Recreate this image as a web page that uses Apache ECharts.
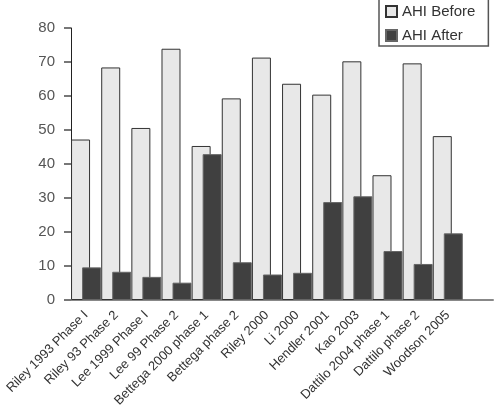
<!DOCTYPE html>
<html>
<head>
<meta charset="utf-8">
<script src="https://cdn.jsdelivr.net/npm/echarts@6/dist/echarts.min.js"></script>
<style>html,body{margin:0;padding:0;background:#fff}#c{width:494px;height:413px}</style>
</head>
<body>
<div id="c"></div>
<script>
var categories = ['Riley 1993 Phase I','Riley 93 Phase 2','Lee 1999 Phase I','Lee 99 Phase 2','Bettega 2000 phase 1','Bettega phase 2','Riley 2000','Li 2000','Hendler 2001','Kao 2003','Dattilo 2004 phase 1','Dattilo phase 2','Woodson 2005',''];
var ahiBefore = [47.2, 68.4, 50.6, 73.9, 45.3, 59.3, 71.3, 63.6, 60.4, 70.2, 36.7, 69.6, 48.2];
var ahiAfter = [9.6, 8.3, 6.8, 5.1, 42.9, 11.1, 7.5, 8.0, 28.8, 30.5, 14.4, 10.6, 19.6];
var yTicks = [0, 10, 20, 30, 40, 50, 60, 70, 80];

var FONT = '"Liberation Sans", Arial, sans-serif';
var chart = echarts.init(document.getElementById('c'), null, {renderer: 'canvas'});
chart.setOption({
  animation: false,
  backgroundColor: '#fff',
  grid: {left: 71, right: 1, top: 28, bottom: 113, containLabel: false, outerBoundsMode: 'none'},
  legend: {
    orient: 'vertical',
    left: 379, top: -2,
    padding: [6, 13, 3, 6],
    itemGap: 9,
    itemWidth: 11, itemHeight: 11,
    borderColor: '#555', borderWidth: 1.5,
    textStyle: {fontFamily: FONT, fontSize: 15, color: '#333'},
    data: [{name: 'AHI Before', icon: 'rect'}, {name: 'AHI After', icon: 'rect'}]
  },
  xAxis: {
    type: 'category',
    data: categories,
    axisLine: {show: true, lineStyle: {color: '#888', width: 2}},
    axisTick: {show: false},
    axisLabel: {rotate: 45, interval: 0, margin: 13, fontFamily: FONT, fontSize: 13, color: '#333'}
  },
  yAxis: {
    type: 'value',
    min: yTicks[0], max: yTicks[yTicks.length - 1], interval: 10,
    splitLine: {show: false},
    axisLine: {show: true, lineStyle: {color: '#222', width: 1}},
    axisTick: {show: true, length: 7, lineStyle: {color: '#777', width: 2}},
    axisLabel: {margin: 16, fontFamily: FONT, fontSize: 15, color: '#555'}
  },
  series: [
    {
      name: 'AHI Before', type: 'bar', data: ahiBefore,
      barWidth: 19, barGap: '-42%',
      itemStyle: {color: '#e8e8e8', borderColor: '#333', borderWidth: 1}
    },
    {
      name: 'AHI After', type: 'bar', data: ahiAfter,
      barWidth: 19,
      itemStyle: {color: '#404040', borderColor: '#666', borderWidth: 1}
    }
  ]
});
</script>
</body>
</html>
